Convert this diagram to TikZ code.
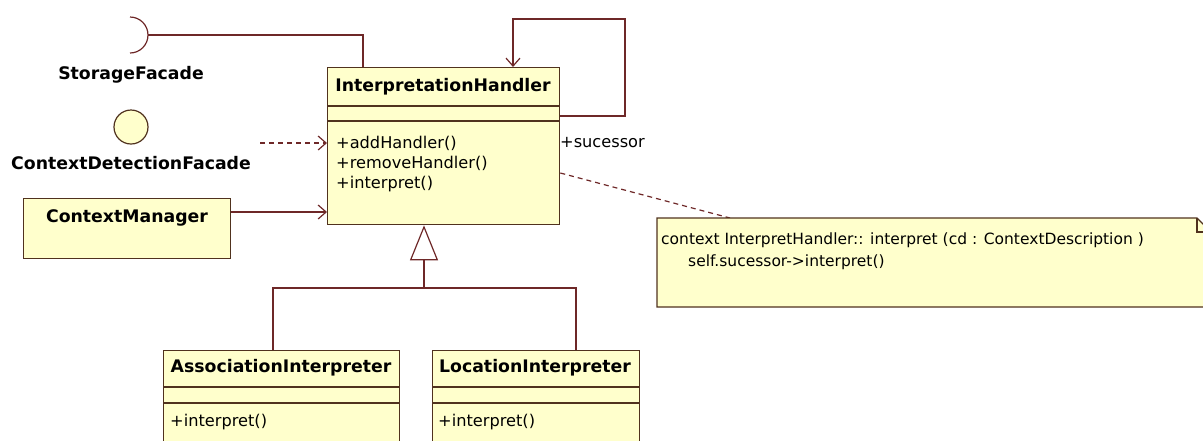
\documentclass[tikz,border=0pt]{standalone}
\usepackage{fontspec}
\setmainfont{DejaVu Sans}
\usetikzlibrary{arrows.meta,positioning}
\definecolor{umlfill}{RGB}{255,255,204}
\definecolor{umlline}{RGB}{110,40,40}
\definecolor{umlbox}{RGB}{80,50,30}
\tikzset{
 cls/.style={draw=umlbox,fill=umlfill,line width=1.3pt,anchor=north west,inner sep=0pt},
 cname/.style={font=\fontsize{17.3}{19}\selectfont\bfseries,inner sep=0pt},
 op/.style={font=\fontsize{16.2}{18}\selectfont,anchor=west,inner sep=0pt},
 ocl/.style={font=\fontsize{15.5}{17}\selectfont,anchor=west,inner sep=0pt},
 assoc/.style={draw=umlline,line width=1.2pt},
 navig/.style={-{Straight Barb[length=8pt,width=14pt]}},
 sep/.style={umlbox,line width=1.3pt}
}

\begin{document}
\begin{tikzpicture}[x=1pt,y=-1pt]
\useasboundingbox (0,0) rectangle (1203,440);
\clip (0,0) rectangle (1203,440);
\node[cls,minimum width=232pt,minimum height=157pt] (ih) at (327,67) {};
\node[cls,minimum width=236pt,minimum height=100pt] (ai) at (163,350) {};
\node[cls,minimum width=207pt,minimum height=100pt] (li) at (432,350) {};
\node[cls,minimum width=207pt,minimum height=60pt] (cm) at (23,198) {};
\draw[sep] (ih.west |- 0,106) -- (ih.east |- 0,106) (ih.west |- 0,121) -- (ih.east |- 0,121);
\foreach \c in {ai,li} {
 \draw[sep] (\c.west |- 0,387) -- (\c.east |- 0,387) (\c.west |- 0,403) -- (\c.east |- 0,403);
}
\node[cname] (ihname) at (443,87) {InterpretationHandler};
\node[cname] (ainame) at (281,368) {AssociationInterpreter};
\node[cname] (liname) at (535,368) {LocationInterpreter};
\node[cname] (cmname) at (127,218) {ContextManager};
\foreach \y/\m in {143/addHandler,163/removeHandler,184/interpret} {
 \node[op] (ih-\m) at (336,\y) {+\m()};
}
\node[op] (ai-op) at (170,422) {+interpret()};
\node[op] (li-op) at (438,422) {+interpret()};
\draw[umlline,line width=1.2pt] (130,17) arc[start angle=-90,end angle=90,radius=18];
\coordinate (sf) at (148,35);
\node[cname] (sflab) at (131,75) {StorageFacade};
\node[circle,draw=umlbox,fill=umlfill,line width=1.2pt,minimum size=34pt,inner sep=0pt] (cdf) at (131,127) {};
\node[cname] (cdflab) at (131,163) {ContextDetectionFacade};
\draw[assoc] (sf) -| (ih.north -| 363,0);
\coordinate (dep) at (260,143);
\draw[assoc,dash pattern=on 5pt off 4pt,navig] (dep) -- (dep -| ih.west);
\draw[assoc,navig] (cm.east |- 0,212) -- (ih.west |- 0,212);
\draw[assoc,navig] (ih.east |- 0,116) -| (625,19) -| (ih.north -| 513,0);
\node[op] (succ) at (560,143) {+sucessor};
\coordinate (fork) at (424,288);
\draw[assoc,-{Triangle[open,length=35pt,width=28pt]}] (fork) -- (fork |- ih.south);
\draw[assoc] (ai.north -| 273,0) |- (fork) -| (li.north -| 576,0);
\coordinate (nc) at (730,218);
\draw[assoc,dash pattern=on 5pt off 4pt] (ih.east |- 0,173) -- (nc);
\filldraw[draw=umlbox,fill=umlfill,line width=1.3pt] (657,218) -- (1197,218) -- (1211,232) -- (1211,307) -- (657,307) -- cycle;
\draw[sep] (1197,218) |- (1211,232);
\node[ocl] (ocl1) at (661,240) {context InterpretHandler:: interpret (cd : ContextDescription )};
\node[ocl] (ocl2) at (688,262) {self.sucessor->interpret()};
\end{tikzpicture}
\end{document}
